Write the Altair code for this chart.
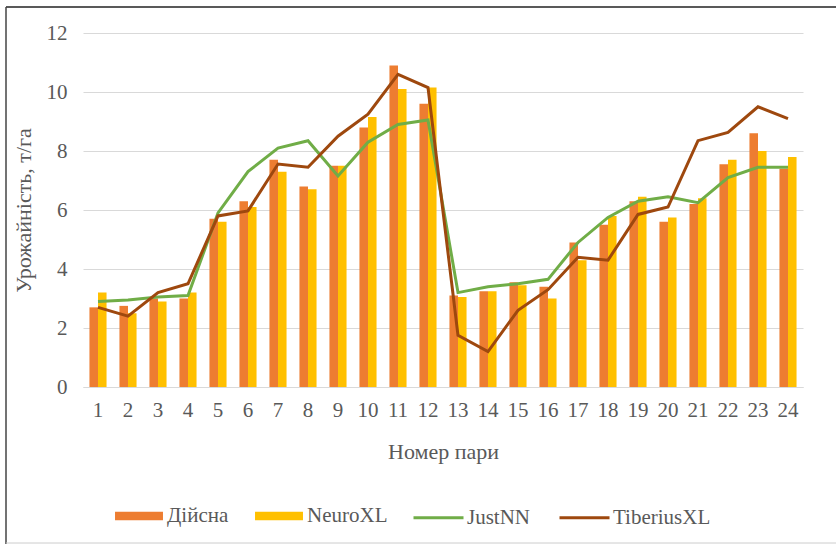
import altair as alt
import pandas as pd

# ---- data ----
pairs = list(range(1, 25))
actual = [2.7, 2.75, 3.0, 3.0, 5.7, 6.3, 7.7, 6.8, 7.5, 8.8, 10.9, 9.6,
          3.1, 3.25, 3.55, 3.4, 4.9, 5.5, 6.3, 5.6, 6.2, 7.55, 8.6, 7.4]
neuro = [3.2, 2.5, 2.9, 3.2, 5.6, 6.1, 7.3, 6.7, 7.5, 9.15, 10.1, 10.15,
         3.05, 3.25, 3.45, 3.0, 4.3, 5.8, 6.45, 5.75, 6.4, 7.7, 8.0, 7.8]
justnn = [2.9, 2.95, 3.05, 3.1, 5.9, 7.3, 8.1, 8.35, 7.15, 8.3, 8.9, 9.05,
          3.2, 3.4, 3.5, 3.65, 4.9, 5.75, 6.3, 6.45, 6.25, 7.1, 7.45, 7.45]
tiberius = [2.7, 2.4, 3.2, 3.5, 5.8, 5.97, 7.56, 7.45, 8.5, 9.25, 10.6, 10.15,
            1.75, 1.2, 2.6, 3.3, 4.4, 4.3, 5.85, 6.1, 8.35, 8.63, 9.5, 9.1]
y_ticks = [0, 2, 4, 6, 8, 10, 12]

bar_names = ["Дійсна", "NeuroXL"]
line_names = ["JustNN", "TiberiusXL"]
bar_colors = ["#ED7D31", "#FFC000"]
line_colors = ["#70AD47", "#9E480E"]

FONT = "Liberation Serif"
TXT = "#595959"
FS = 21

bars_df = pd.DataFrame({
    "pair": pairs * 2,
    "bar_series": [bar_names[0]] * 24 + [bar_names[1]] * 24,
    "value": actual + neuro,
})
lines_df = pd.DataFrame({
    "pair": pairs * 2,
    "line_series": [line_names[0]] * 24 + [line_names[1]] * 24,
    "value": justnn + tiberius,
})
one = pd.DataFrame({"a": [0]})

x_enc = alt.X(
    "pair:O",
    title="Номер пари",
    scale=alt.Scale(paddingInner=0.43, paddingOuter=0.215),
    axis=alt.Axis(labelAngle=0, ticks=False, grid=False, domainColor="#d9d9d9",
                  domainWidth=1, labelPadding=12, labelFont=FONT, labelFontSize=FS,
                  labelColor=TXT, titleFont=FONT, titleFontSize=FS + 1, titleColor=TXT,
                  titleFontWeight="normal", titleY=64, titleBaseline="middle"),
)
y_enc = alt.Y(
    "value:Q",
    title="Урожайність, т/га",
    scale=alt.Scale(domain=[0, 12], nice=False),
    axis=alt.Axis(values=y_ticks, domain=False, ticks=False, gridColor="#d9d9d9",
                  labelPadding=16, labelFont=FONT, labelFontSize=FS, labelColor=TXT,
                  titleFont=FONT, titleFontSize=FS + 1, titleColor=TXT,
                  titleFontWeight="normal", titleX=-60, titleY=177,
                  titleAlign="center", titleBaseline="middle", titleAngle=270),
)

bars = alt.Chart(bars_df).mark_bar().encode(
    x=x_enc,
    xOffset=alt.XOffset("bar_series:N", sort=bar_names,
                        scale=alt.Scale(paddingInner=0, paddingOuter=0)),
    y=y_enc,
    color=alt.Color(
        "bar_series:N", sort=bar_names,
        scale=alt.Scale(domain=bar_names, range=bar_colors),
        legend=alt.Legend(orient="none", legendX=32, legendY=459, direction="horizontal",
                          title=None, symbolType="M-1,-0.18H1V0.18H-1Z", symbolSize=2300,
                          symbolStrokeWidth=0, symbolOpacity=1, labelFont=FONT,
                          labelFontSize=FS, labelColor=TXT, labelOffset=4,
                          columnPadding=26),
    ),
)

lines = alt.Chart(lines_df).mark_line(strokeWidth=3).encode(
    x=alt.X("pair:O"),
    y=alt.Y("value:Q"),
    stroke=alt.Stroke(
        "line_series:N", sort=line_names,
        scale=alt.Scale(domain=line_names, range=line_colors),
        legend=alt.Legend(orient="none", legendX=329, legendY=458, direction="horizontal",
                          title=None, symbolType="stroke", symbolSize=2500,
                          symbolStrokeWidth=3, labelFont=FONT, labelFontSize=FS,
                          labelColor=TXT, labelOffset=2, columnPadding=22),
    ),
)

frame_top = alt.Chart(one).mark_rule(color="#222222", strokeWidth=1.5).encode(
    x=alt.value(-77), x2=alt.value(760), y=alt.value(-26))
frame_left = alt.Chart(one).mark_rule(color="#444444", strokeWidth=1.5).encode(
    x=alt.value(-77), y=alt.value(-26), y2=alt.value(515))
frame_bottom = alt.Chart(one).mark_rule(color="#cccccc", strokeWidth=1).encode(
    x=alt.value(-77), x2=alt.value(760), y=alt.value(510))

chart = alt.layer(frame_top, frame_left, frame_bottom, bars, lines).resolve_scale(
    color="independent", stroke="independent"
).properties(
    width=720, height=354,
    autosize=alt.AutoSizeParams(type="none"),
    padding={"left": 83, "top": 33, "right": 33, "bottom": 157},
    background="white",
).configure_view(stroke=None)

chart.save("out.html", embed_options={"renderer": "svg", "actions": False})
